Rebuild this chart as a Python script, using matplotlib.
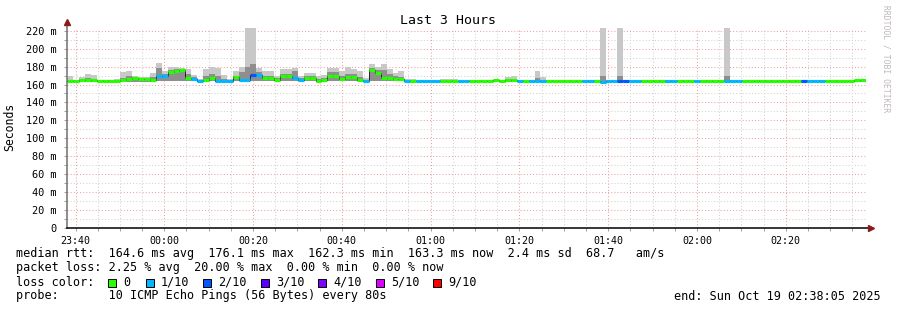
import numpy as np
import pandas as pd
import matplotlib
matplotlib.use('Agg')
import matplotlib.pyplot as plt
import matplotlib.dates as mdates
from matplotlib.ticker import MultipleLocator, FuncFormatter
from matplotlib.patches import Rectangle

# ---- data ----
start = pd.Timestamp('2025-10-18 23:38:05')
end = pd.Timestamp('2025-10-19 02:38:05')
step_s = 80

# median rtt per 80s step, ms
median = [164, 164, 165.5, 165.5, 165, 164, 164, 164, 163.5, 164.5,
          166.5, 167, 166.5, 166, 165, 169, 169.5, 173.5, 175.5, 176,
          167.5, 166, 164, 165, 167, 164, 164, 164, 168, 165.5,
          165, 171, 171, 167, 167, 165, 169.5, 169.5, 167, 165,
          167, 167, 164, 165, 169, 169, 166, 168, 168, 165,
          163.5, 176, 173, 167, 167, 166, 166, 164, 164, 164,
          163.5, 163.5, 163.5, 164, 164, 164, 163.5, 163.5, 164, 164,
          164, 164, 164.5, 164, 164.5, 164.5, 163.5, 164, 163.5, 164,
          164, 164, 164, 164, 164, 164, 164, 163.5, 163.5, 164,
          163, 163.5, 163.5, 163.5, 163.5, 163.5, 163.5, 164, 164, 164,
          164, 163.5, 163.5, 164, 164, 164, 163.5, 163.5, 164, 164,
          164, 163.5, 163.5, 163.5, 164, 164, 164, 164, 164, 164,
          164, 164, 164, 164, 163.5, 163.5, 163.5, 163.5, 164, 164,
          164, 163.5, 163.5, 164.5, 164.5]

# lost pings out of 10 per step
loss = [0, 0, 0, 0, 0, 0, 0, 0, 0, 0,
        0, 0, 0, 0, 0, 1, 1, 0, 0, 0,
        0, 1, 1, 0, 0, 1, 1, 1, 0, 1,
        1, 2, 1, 0, 0, 0, 0, 0, 1, 1,
        0, 0, 0, 0, 0, 0, 0, 0, 0, 0,
        1, 0, 0, 0, 0, 0, 0, 1, 0, 1,
        1, 1, 1, 0, 0, 0, 1, 1, 0, 0,
        0, 0, 0, 0, 0, 0, 1, 0, 1, 1,
        1, 0, 0, 0, 0, 0, 0, 1, 1, 0,
        1, 1, 1, 2, 2, 1, 1, 0, 0, 0,
        0, 1, 1, 0, 0, 0, 1, 0, 0, 0,
        0, 1, 1, 1, 0, 0, 0, 0, 0, 0,
        0, 0, 0, 0, 2, 1, 1, 1, 0, 0,
        0, 0, 0, 0, 0]

# highest ping (outer smoke), ms
smoke_top = [170, 165, 168.5, 172, 171, 165, 164.5, 164.5, 166, 174,
             175, 170, 168, 168, 173, 184, 175, 180, 180, 178,
             177.5, 171, 166, 177.5, 180, 178, 171, 166, 175, 180,
             240, 240, 178, 175, 175, 170, 177, 177, 178, 170,
             173, 173, 170, 171, 178, 178, 175, 180, 177, 175,
             167, 183, 180, 183, 177, 173, 175, 166, 166, 165,
             165.5, 165.5, 165.5, 166, 166, 166, 165, 165, 165, 165,
             165, 165.5, 166, 165, 168, 169, 165, 165, 165, 175.5,
             168, 165, 165, 165, 165, 165, 165, 165, 165, 165,
             240, 165, 165, 240, 165, 165, 165, 165.5, 165.5, 165.5,
             165.5, 165, 165, 165, 165, 165, 165.5, 164.5, 165, 165,
             165, 240, 165, 165, 165.5, 165.5, 165.5, 165.5, 165.5, 165.5,
             165.5, 165, 165, 165.5, 165.5, 165, 165, 165, 165, 165,
             165, 164.5, 164.5, 165.5, 165.5]

# inner (darker) smoke top, ms
smoke_dark = [165, 164.5, 166, 167, 166, 164.5, 164.5, 164.5, 164, 167,
              170, 168, 167, 167, 168, 178, 172, 176, 177, 177,
              172, 168, 165, 170, 172, 170, 166, 165, 170, 174,
              180, 183, 174, 170, 170, 167, 172, 172, 175, 167,
              169, 169, 166, 167, 174, 174, 170, 172, 172, 168,
              165, 178, 176, 176, 172, 169, 168, 165, 165, 164.5,
              164.5, 164.5, 164.5, 165, 165, 165, 164, 164, 164.5, 164.5,
              164.5, 165, 165, 164.5, 166, 166, 164.5, 164.5, 164.5, 167,
              165, 164.5, 164.5, 164.5, 164.5, 164.5, 164.5, 164.5, 164.5, 164.5,
              170, 164.5, 164.5, 170, 164.5, 164.5, 164.5, 165, 165, 165,
              165, 164.5, 164.5, 164.5, 164.5, 164.5, 165, 164, 164.5, 164.5,
              164.5, 170, 164.5, 164.5, 165, 165, 165, 165, 165, 165,
              165, 164.5, 164.5, 165, 165, 164.5, 164.5, 164.5, 164.5, 164.5,
              164.5, 164, 164, 165, 165]

# lowest ping, ms
smoke_low = [162.5] * 15 + [163.5] * 45 + [162.3] * 75

loss_levels = ['0', '1/10', '2/10', '3/10', '4/10', '5/10', '9/10']
loss_colors = ['#26ff00', '#00b8ff', '#0059ff', '#5e00ff', '#7e00ff', '#dd00ff', '#ff0000']

stats_line = 'median rtt:  164.6 ms avg  176.1 ms max  162.3 ms min  163.3 ms now  2.4 ms sd  68.7   am/s'
loss_line = 'packet loss: 2.25 % avg  20.00 % max  0.00 % min  0.00 % now'
probe_line = 'probe:       10 ICMP Echo Pings (56 Bytes) every 80s'
end_line = 'end: Sun Oct 19 02:38:05 2025'

# ---- figure ----
W, H = 897, 310
fig = plt.figure(figsize=(W / 100, H / 100), dpi=100, facecolor='white')
ax = fig.add_axes([67 / W, 1 - 228 / H, 799 / W, 200 / H])
mono = 'DejaVu Sans Mono'

edges = pd.date_range(start, periods=len(median) + 1, freq='%ds' % step_s)
med = np.array(median, dtype=float)
top = np.array(smoke_top, dtype=float)
dark = np.array(smoke_dark, dtype=float)
low = np.array(smoke_low, dtype=float)

def ext(a):
    return np.append(a, a[-1])

ax.fill_between(edges, ext(low), ext(top), step='post', color='#c8c8c8', lw=0, zorder=2)
ax.fill_between(edges, ext(low), ext(dark), step='post', color='#8e8e8e', lw=0, zorder=3)
ax.step(edges, ext(med), where='post', color='#202020', lw=0.7, zorder=4)
seg_colors = [loss_colors[min(l, 6)] for l in loss]
ax.hlines(med, edges[:-1], edges[1:], colors=seg_colors, lw=2.3, zorder=5, capstyle='butt')

ax.set_xlim(start, end)
ax.set_ylim(0, 223)

ax.xaxis.set_major_locator(mdates.MinuteLocator(byminute=[0, 20, 40]))
ax.xaxis.set_minor_locator(mdates.MinuteLocator(byminute=range(0, 60, 5)))
ax.xaxis.set_major_formatter(mdates.DateFormatter('%H:%M'))
ax.yaxis.set_major_locator(MultipleLocator(20))
ax.yaxis.set_minor_locator(MultipleLocator(10))
ax.yaxis.set_major_formatter(FuncFormatter(lambda v, p: '0' if v == 0 else '%d m' % v))

ax.set_axisbelow(True)
ax.grid(which='major', color='#f0a0a0', lw=0.75, ls=(0, (1, 2)))
ax.grid(which='minor', color='#d2d2d2', lw=0.75, ls=(0, (1, 2)))

for s in ['top', 'right', 'left', 'bottom']:
    ax.spines[s].set_visible(False)
ax.tick_params(axis='both', which='both', length=2.5, width=0.7, color='#a0a0a0', pad=3)
ax.tick_params(axis='y', labelsize=7.4, pad=5)
ax.tick_params(axis='x', labelsize=7.2, pad=3)
for lab in ax.get_xticklabels() + ax.get_yticklabels():
    lab.set_family(mono)

# axes lines with arrows
ax.plot([0, 0], [0, 1.025], transform=ax.transAxes, color='#707070', lw=1.1, clip_on=False, zorder=6)
ax.plot([0, 1.006], [0, 0], transform=ax.transAxes, color='black', lw=1.1, clip_on=False, zorder=6)
ax.plot([0], [1.03], transform=ax.transAxes, marker='^', ms=4.5, color='#8b1a1a', clip_on=False, zorder=7)
ax.plot([1.006], [0], transform=ax.transAxes, marker='>', ms=4.5, color='#8b1a1a', clip_on=False, zorder=7)

fig.text(10 / W, 1 - 127 / H, 'Seconds', family=mono, fontsize=8.3, rotation=90,
         ha='center', va='center')

fig.text(448 / W, 1 - 20 / H, 'Last 3 Hours', family=mono, fontsize=9.5, ha='center', va='center')
fig.text(886 / W, 1 - 5 / H, 'RRDTOOL / TOBI OETIKER', family=mono, fontsize=5.8,
         rotation=270, ha='center', va='top', color='#c0b8b8')

# legend block
fs = 8.5
fig.text(16 / W, 1 - 254 / H, stats_line, family=mono, fontsize=fs, va='center')
fig.text(16 / W, 1 - 268 / H, loss_line, family=mono, fontsize=fs, va='center')
fig.text(16 / W, 1 - 282 / H, 'loss color:', family=mono, fontsize=fs, va='center')
box_x = [108, 146, 203, 261, 318, 376, 433]
for bx, lvl, col in zip(box_x, loss_levels, loss_colors):
    fig.patches.append(Rectangle((bx / W, 1 - 286.5 / H), 8 / W, 8 / H, transform=fig.transFigure,
                                 facecolor=col, edgecolor='black', lw=0.7))
    fig.text((bx + 15) / W, 1 - 282 / H, lvl, family=mono, fontsize=fs, va='center')
fig.text(16 / W, 1 - 296 / H, probe_line, family=mono, fontsize=fs, va='center')
fig.text(881 / W, 1 - 296 / H, end_line, family=mono, fontsize=fs, va='center', ha='right')

fig.savefig('out.png', dpi=100, facecolor='white')
